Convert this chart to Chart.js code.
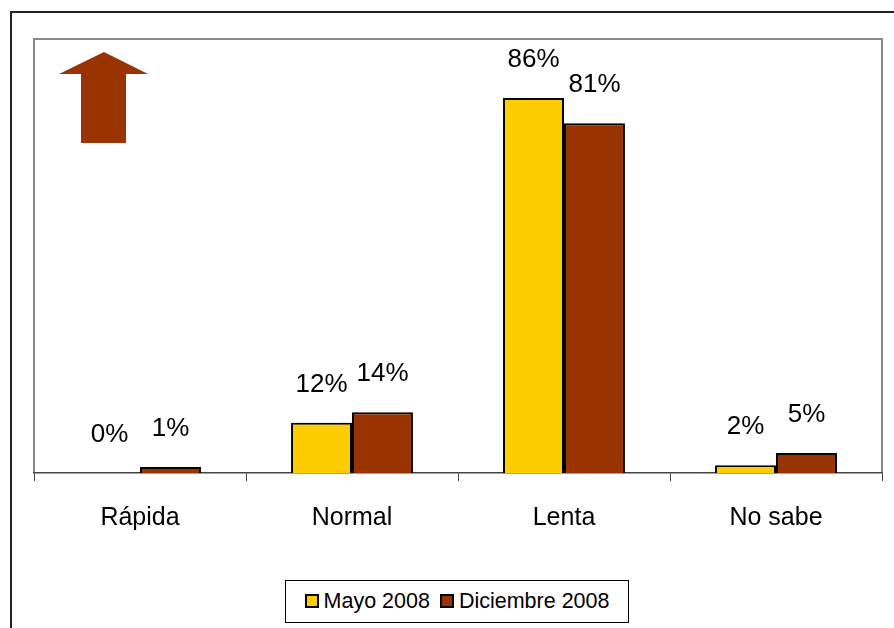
<!DOCTYPE html>
<html>
<head>
<meta charset="utf-8">
<script src="https://cdn.jsdelivr.net/npm/chart.js@4/dist/chart.umd.min.js"></script>
<style>
    html, body { margin: 0; padding: 0; background: #fff; }
    #wrap { position: relative; width: 894px; height: 628px; overflow: hidden; }
    #legend {
        position: absolute; left: 285px; top: 580px; width: 344px; height: 43px;
        border: 1px solid #000; box-sizing: border-box; background: #fff;
        font-family: "Liberation Sans", Arial, sans-serif; font-size: 21.5px; color: #000;
        display: flex; align-items: center; justify-content: center; gap: 10px;
    }
    #legend span.box {
        display: inline-block; width: 10px; height: 10px; border: 2px solid #000;
        margin-right: 5px; vertical-align: middle; position: relative; top: -1px;
    }
</style>
</head>
<body>
<div id="wrap">
    <canvas id="myChart" width="894" height="628"></canvas>
    <div id="legend"></div>
</div>
<script>
const categories = ['Rápida', 'Normal', 'Lenta', 'No sabe'];
const seriesNames = ['Mayo 2008', 'Diciembre 2008'];
const mayo2008 = [0, 11.6, 86.4, 1.8];
const diciembre2008 = [1.4, 14.0, 80.6, 4.6];
const seriesColors = ['#FFCC00', '#993300'];

// legend (html)
document.getElementById('legend').innerHTML = seriesNames.map((name, i) => `
    <div><span class="box" style="background:${seriesColors[i]}"></span>${name}</div>
`).join('');

// frame, plot border and arrow
const framePlugin = {
    id: 'frame',
    beforeDraw(chart) {
        const {ctx, chartArea} = chart;
        ctx.save();
        ctx.fillStyle = '#fff';
        ctx.fillRect(0, 0, chart.width, chart.height);
        ctx.strokeStyle = '#222';
        ctx.lineWidth = 2;
        ctx.beginPath();
        ctx.moveTo(11, 630);
        ctx.lineTo(11, 12);
        ctx.lineTo(900, 12);
        ctx.stroke();

        ctx.strokeStyle = '#888';
        ctx.lineWidth = 2;
        ctx.beginPath();
        ctx.moveTo(chartArea.left, chartArea.bottom);
        ctx.lineTo(chartArea.left, chartArea.top);
        ctx.lineTo(chartArea.right, chartArea.top);
        ctx.lineTo(chartArea.right, chartArea.bottom);
        ctx.stroke();

        // arrow
        ctx.fillStyle = '#993300';
        ctx.beginPath();
        ctx.moveTo(104, 52);
        ctx.lineTo(148, 74);
        ctx.lineTo(126, 74);
        ctx.lineTo(126, 143);
        ctx.lineTo(81, 143);
        ctx.lineTo(81, 74);
        ctx.lineTo(59, 74);
        ctx.closePath();
        ctx.fill();
        ctx.restore();
    }
};

// value labels above bars
const valueLabels = {
    id: 'valueLabels',
    afterDatasetsDraw(chart) {
        const {ctx} = chart;
        ctx.save();
        ctx.font = '26px "Liberation Sans", Arial, sans-serif';
        ctx.fillStyle = '#000';
        ctx.textAlign = 'center';
        ctx.textBaseline = 'middle';
        chart.data.datasets.forEach((ds, i) => {
            chart.getDatasetMeta(i).data.forEach((bar, j) => {
                ctx.fillText(Math.round(ds.data[j]) + '%', bar.x, bar.y - 38);
            });
        });
        ctx.restore();
    }
};

const ctx = document.getElementById('myChart').getContext('2d');
new Chart(ctx, {
    type: 'bar',
    data: {
        labels: categories,
        datasets: [
            {
                label: seriesNames[0],
                data: mayo2008,
                backgroundColor: seriesColors[0],
                borderColor: '#000',
                borderWidth: 2,
                categoryPercentage: 0.575,
                barPercentage: 1.0
            },
            {
                label: seriesNames[1],
                data: diciembre2008,
                backgroundColor: seriesColors[1],
                borderColor: '#000',
                borderWidth: 2,
                categoryPercentage: 0.575,
                barPercentage: 1.0
            }
        ]
    },
    options: {
        responsive: false,
        animation: false,
        layout: {
            padding: {left: 34, right: 12, top: 39, bottom: 73}
        },
        scales: {
            x: {
                grid: {
                    offset: true,
                    drawOnChartArea: false,
                    tickLength: 8,
                    color: '#444'
                },
                border: {color: '#444', width: 1.5},
                ticks: {
                    padding: 22,
                    color: '#000',
                    font: {family: '"Liberation Sans", Arial, sans-serif', size: 25}
                }
            },
            y: {
                display: false,
                min: 0,
                max: 100
            }
        },
        plugins: {
            legend: {display: false},
            tooltip: {enabled: false}
        }
    },
    plugins: [framePlugin, valueLabels]
});
</script>
</body>
</html>
